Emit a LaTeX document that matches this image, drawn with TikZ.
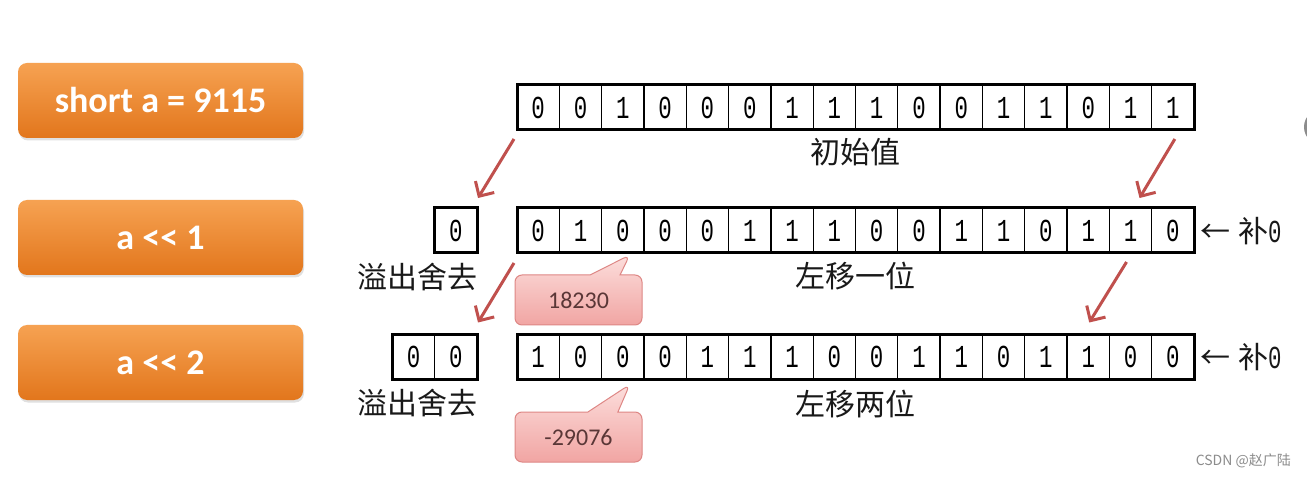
\documentclass[tikz,border=0pt]{standalone}
\usepackage{graphicx}
\usepackage{fontspec}
\setmainfont{Carlito}
\newfontfamily\cjkf{Noto Sans CJK SC}
\newfontfamily\monof{Liberation Mono}
\usetikzlibrary{arrows.meta,shapes.callouts}
\definecolor{orangeT}{RGB}{246,162,82}
\definecolor{orangeB}{RGB}{226,118,28}
\definecolor{redarr}{RGB}{192,80,77}
\definecolor{pinkT}{RGB}{252,222,220}
\definecolor{pinkB}{RGB}{241,165,163}
\definecolor{pinkD}{RGB}{222,135,133}
\definecolor{calltxt}{RGB}{90,55,55}
\newcommand\dg[1]{\scalebox{0.7}[1]{\monof\fontsize{32}{32}\selectfont #1}}
\tikzset{
  opbox/.style={rounded corners=9pt, minimum width=285pt, minimum height=75pt, inner sep=0pt,
    top color=orangeT, bottom color=orangeB, draw=none, text=white,
    font=\fontsize{36}{36}\selectfont\bfseries},
  opshadow/.style={rounded corners=9pt, fill=black!12, draw=none, minimum width=285pt, minimum height=75pt},
  cell/.style={draw, line width=1.3pt, minimum width=42.3125pt, minimum height=45pt, inner sep=0pt, outer sep=0pt},
  frame/.style={draw, line width=3pt},
  lbl/.style={font=\cjkf\fontsize{30}{30}\selectfont, text=black!90, inner sep=0pt},
  shiftarrow/.style={draw=redarr, line width=3pt, -{Straight Barb[length=11pt,width=22pt,line width=3pt]}},
  callbox/.style={rectangle callout, rounded corners=7pt, minimum width=127pt, minimum height=50pt,
    top color=pinkT, bottom color=pinkB, draw=pinkD, line width=1pt, text=calltxt,
    font=\fontsize{24}{24}\selectfont, callout pointer width=30pt},
  wmark/.style={font=\cjkf\fontsize{14}{14}\selectfont, text=black!45, inner sep=0pt}
}
\begin{document}
\begin{tikzpicture}[x=1pt,y=-1pt]
\useasboundingbox (0,0) rectangle (1307,478);
\fill[white] (0,0) rectangle (1307,478);
% UI artifact circle at right edge
\fill[black!45] (1322,127) circle (18);

% orange operation boxes
\foreach \yy/\nm/\txt in {100.5/op1/{short a = 9115}, 237.5/op2/{a \mbox{<}\mbox{<} 1}, 362.5/op3/{a \mbox{<}\mbox{<} 2}}{
  \node[opshadow] (\nm s) at (161.5,\yy+2.5) {};
  \node[opbox] (\nm) at (160.5,\yy) {\txt};
}

% row 1
\foreach \b [count=\i] in {0,0,1,0,0,0,1,1,1,0,0,1,1,0,1,1}
  \node[cell] (r1c\i) at ({517+42.3125*(\i-0.5)},107.5) {\dg{\b}};
\draw[frame] (r1c1.north west) rectangle (r1c16.south east);
% row 2
\foreach \b [count=\i] in {0,1,0,0,0,1,1,1,0,0,1,1,0,1,1,0}
  \node[cell] (r2c\i) at ({517+42.3125*(\i-0.5)},230.5) {\dg{\b}};
\draw[frame] (r2c1.north west) rectangle (r2c16.south east);
\node[cell] (ov21) at (455.85,230.5) {\dg{0}};
\draw[frame] (ov21.north west) rectangle (ov21.south east);
% row 3
\foreach \b [count=\i] in {1,0,0,0,1,1,1,0,0,1,1,0,1,1,0,0}
  \node[cell] (r3c\i) at ({517+42.3125*(\i-0.5)},357) {\dg{\b}};
\draw[frame] (r3c1.north west) rectangle (r3c16.south east);
\node[cell] (ov31) at (413.54,357) {\dg{0}};
\node[cell] (ov32) at (455.85,357) {\dg{0}};
\draw[frame] (ov31.north west) rectangle (ov32.south east);

% labels
\node[lbl] (l1) at (855.5,152) {初始值};
\node[lbl] (l2) at (855.5,276) {左移一位};
\node[lbl] (l3) at (855.5,404) {左移两位};
\node[lbl] (o2) at (417,277) {溢出舍去};
\node[lbl] (o3) at (417,403) {溢出舍去};
\node[lbl, anchor=west] (p2) at (1200,231) {←\hspace{8pt}补\dg{0}};
\node[lbl, anchor=west] (p3) at (1200,357) {←\hspace{8pt}补\dg{0}};

% red shift arrows
\draw[shiftarrow] ([shift={(-3,9)}]r1c1.south west) -- ([shift={(1,-10)}]ov21.north east);
\draw[shiftarrow] ([shift={(2,9)}]r1c16.south) -- ([shift={(9,-10)}]r2c15.north);
\draw[shiftarrow] ([shift={(-3,10)}]r2c1.south west) -- ([shift={(1,-12)}]ov32.north east);
\draw[shiftarrow] ([shift={(-4,9)}]r2c15.south) -- ([shift={(1,-12)}]r3c14.north);

% callouts
\node[callbox, callout absolute pointer={([shift={(7,2)}]r2c3.south)}] (c1) at (578.5,300) {18230};
\node[callbox, callout absolute pointer={([shift={(7,5)}]r3c3.south)}] (c2) at (578.5,437) {-29076};

% watermark
\node[wmark, anchor=east] (wm) at (1291,461) {CSDN @赵广陆};
\end{tikzpicture}
\end{document}
